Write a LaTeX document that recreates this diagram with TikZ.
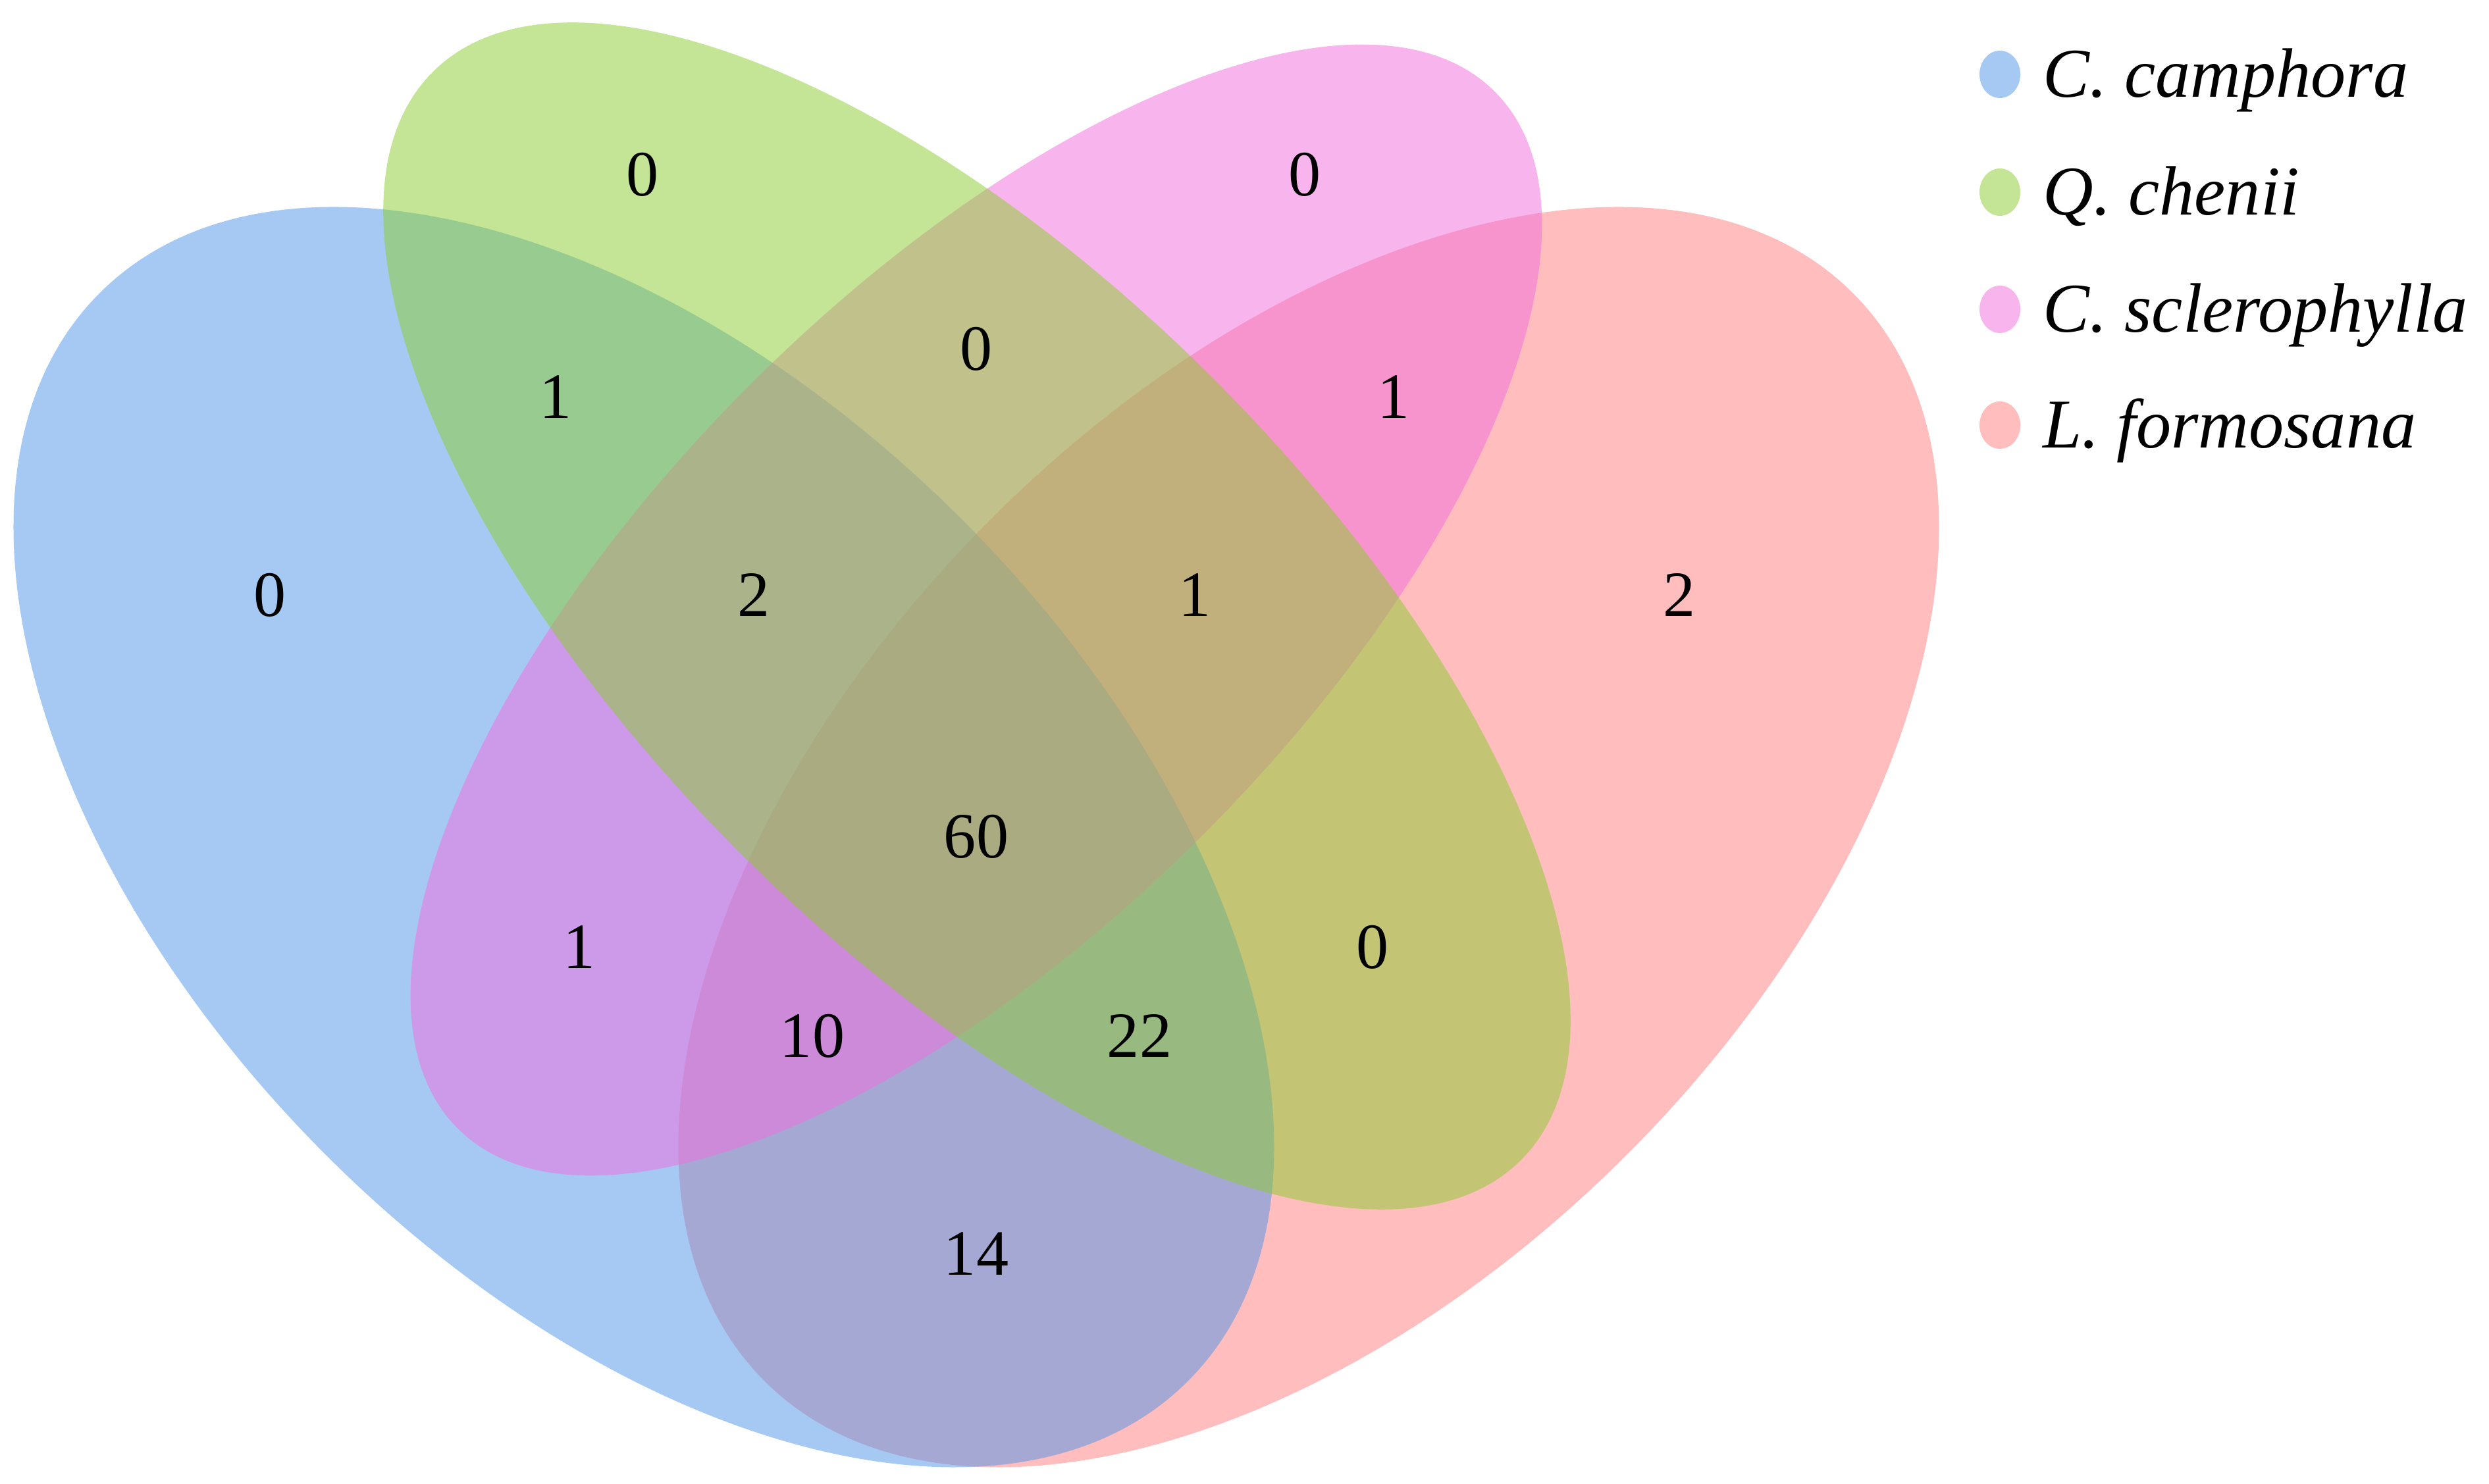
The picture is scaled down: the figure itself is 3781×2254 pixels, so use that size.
\documentclass[tikz,border=0pt]{standalone}
\usepackage{fontspec}
\setmainfont{Liberation Serif}
\definecolor{cblue}{RGB}{79,149,235}
\definecolor{cred}{RGB}{255,125,125}
\definecolor{cpink}{RGB}{243,109,221}
\definecolor{cgreen}{RGB}{139,205,45}
\begin{document}
\begin{tikzpicture}[x=0.01cm,y=0.01cm,
  setfill/.style={fill=#1, fill opacity=0.5, draw=none},
  num/.style={font=\fontsize{27.9}{30}\selectfont, text=black, inner sep=0pt},
  leg/.style={font=\fontsize{30.2}{34}\selectfont\itshape, text=black, anchor=base west, inner sep=0pt}]
\useasboundingbox (0,0) rectangle (3781,2254);
\fill[white] (0,0) rectangle (3781,2254);
% sets (drawing order matters for blending)
\path[setfill=cred,   rotate around={45:(1988,982)}]  (1988,982)  ellipse [x radius=1169, y radius=683];
\path[setfill=cblue,  rotate around={-45:(978,982)}]  (978,982)   ellipse [x radius=1169, y radius=683];
\path[setfill=cpink,  rotate around={45:(1483,1327)}] (1483,1327) ellipse [x radius=1114, y radius=485];
\path[setfill=cgreen, rotate around={-45:(1484,1318)}] (1484,1318) ellipse [x radius=1169, y radius=509];
% counts
\node[num] (g)    at (976,1989)  {0};
\node[num] (p)    at (1982,1989) {0};
\node[num] (bg)   at (844,1651)  {1};
\node[num] (gp)   at (1483,1724) {0};
\node[num] (pr)   at (2117,1651) {1};
\node[num] (b)    at (410,1350)  {0};
\node[num] (bgp)  at (1145,1350) {2};
\node[num] (gpr)  at (1815,1350) {1};
\node[num] (r)    at (2551,1350) {2};
\node[num] (all)  at (1483,983)  {60};
\node[num] (bp)   at (880,815)   {1};
\node[num] (bpr)  at (1234,680)  {10};
\node[num] (bgr)  at (1731,680)  {22};
\node[num] (gr)   at (2085,815)  {0};
\node[num] (br)   at (1483,349)  {14};
% legend
\path[setfill=cblue]  (3038,2141) ellipse [x radius=31, y radius=36];
\path[setfill=cgreen] (3038,1962) ellipse [x radius=31, y radius=36];
\path[setfill=cpink]  (3038,1784) ellipse [x radius=31, y radius=36];
\path[setfill=cred]   (3038,1608) ellipse [x radius=31, y radius=36];
\node[leg] (l1) at (3103,2106) {C. camphora};
\node[leg] (l2) at (3103,1927) {Q. chenii};
\node[leg] (l3) at (3103,1749) {C. sclerophylla};
\node[leg] (l4) at (3103,1573) {L. formosana};
\end{tikzpicture}
\end{document}
